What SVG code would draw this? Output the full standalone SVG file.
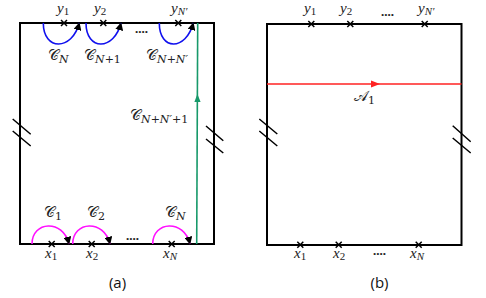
<svg xmlns="http://www.w3.org/2000/svg" width="486" height="298" viewBox="0 0 486 298">
<style>
.box{fill:none;stroke:#000;stroke-width:2}
.hash{stroke:#000;stroke-width:1.5}
.cross{stroke:#000;stroke-width:1.5}
.blue{fill:none;stroke:#1010ee;stroke-width:1.6}
.mag{fill:none;stroke:#ff10ff;stroke-width:1.6}
.m{font-family:"Liberation Serif","DejaVu Serif",serif;font-style:italic;font-size:15px;fill:#222}
.c{font-family:"DejaVu Serif","Liberation Serif",serif;font-size:15px;fill:#222}
.s{font-family:"Liberation Serif",serif;font-size:11px;font-style:italic}
.n{font-family:"Liberation Serif",serif;font-size:11px;font-style:normal}
.cs{font-family:"DejaVu Serif",serif;font-size:11px;font-style:italic}
.cn{font-family:"DejaVu Serif",serif;font-size:11px;font-style:normal}
.dots{font-family:"Liberation Serif",serif;font-size:13px;font-weight:bold;fill:#222}
.cap{font-family:"Open Sans","Liberation Sans",sans-serif;font-size:15px;fill:#111}
</style>
<defs>
<marker id="ah" viewBox="0 0 10 10" refX="9" refY="5" markerWidth="8" markerHeight="8" markerUnits="userSpaceOnUse" orient="auto"><path d="M0,0L10,5L0,10z" fill="#000"/></marker>
<g id="x"><path class="cross" d="M-3,-3L3,3M-3,3L3,-3"/></g>
</defs>

<g id="panel-a">
<rect class="box" x="20" y="23" width="194" height="221"/>
<path class="hash" d="M12.7,119L30.7,134.3M12.7,131L30.7,146M206,126L223.3,140.7M206,139L223.3,153"/>
</g>
<g id="panel-b">
<rect class="box" x="267" y="24" width="194.5" height="221"/>
<path class="hash" d="M259.3,119L277.3,134M259.3,131L277.3,146M452.7,125.7L470.7,141.7M452.7,138L470.7,153"/>
</g>

<g id="points">
<use href="#x" x="64" y="23"/>
<use href="#x" x="103.3" y="23"/>
<use href="#x" x="178.3" y="23"/>
<use href="#x" x="51.7" y="244"/>
<use href="#x" x="91.7" y="244"/>
<use href="#x" x="171.7" y="244"/>
<use href="#x" x="311.3" y="24"/>
<use href="#x" x="350.3" y="24"/>
<use href="#x" x="424.7" y="24"/>
<use href="#x" x="300.3" y="244.7"/>
<use href="#x" x="338.7" y="244.7"/>
<use href="#x" x="418.7" y="244.7"/>
</g>

<g id="connectors">
<path class="blue" d="M43.3,23C43.3,51 72,51 79.3,23" marker-end="url(#ah)"/>
<path class="blue" d="M86,23C86,51 114,51 121,23" marker-end="url(#ah)"/>
<path class="blue" d="M159.3,23C159.3,51 186,51 193.3,23" marker-end="url(#ah)"/>
<path class="mag" d="M32,244C32,221 63,219 69,244" marker-end="url(#ah)"/>
<path class="mag" d="M72.7,244C72.7,221 104,219 110,244" marker-end="url(#ah)"/>
<path class="mag" d="M152.7,244C152.7,221 184,219 190,244" marker-end="url(#ah)"/>
<path d="M196.7,244L197.7,23" stroke="#17996a" stroke-width="1.6" fill="none"/>
<path d="M197.4,94L200.6,102L194.4,102z" fill="#17996a"/>
<path d="M267,84L461.5,84" stroke="#ff2222" stroke-width="1.6"/>
<path d="M380,84L371,80.5L371,87.5z" fill="#ff2222"/>
</g>

<g id="labels">
<text class="m" x="57" y="13">y<tspan class="n" dy="2">1</tspan></text>
<text class="m" x="94" y="13">y<tspan class="n" dy="2">2</tspan></text>
<text class="m" x="171" y="13">y<tspan class="s" dy="2">N′</tspan></text>
<text class="c" x="48" y="60">𝒞<tspan class="cs" dy="2.5">N</tspan></text>
<text class="c" x="84" y="60">𝒞<tspan class="cs" dy="2.5">N</tspan><tspan class="cn">+1</tspan></text>
<text class="c" x="146" y="60">𝒞<tspan class="cs" dy="2.5">N</tspan><tspan class="cn">+</tspan><tspan class="cs">N′</tspan></text>
<text class="c" x="130" y="120">𝒞<tspan class="cs" dy="2.5">N</tspan><tspan class="cn">+</tspan><tspan class="cs">N′</tspan><tspan class="cn">+1</tspan></text>
<text class="dots" x="135" y="33">....</text>
<text class="c" x="44" y="217">𝒞<tspan class="cn" dy="2.5">1</tspan></text>
<text class="c" x="87" y="217">𝒞<tspan class="cn" dy="2.5">2</tspan></text>
<text class="c" x="165" y="217">𝒞<tspan class="cs" dy="2.5">N</tspan></text>
<text class="m" x="45" y="258">x<tspan class="n" dy="2">1</tspan></text>
<text class="m" x="86" y="258">x<tspan class="n" dy="2">2</tspan></text>
<text class="m" x="163" y="258">x<tspan class="s" dy="2">N</tspan></text>
<text class="dots" x="126" y="240">....</text>
<text class="cap" x="117.5" y="288" text-anchor="middle">(a)</text>

<text class="m" x="304" y="13">y<tspan class="n" dy="2">1</tspan></text>
<text class="m" x="340" y="13">y<tspan class="n" dy="2">2</tspan></text>
<text class="m" x="418" y="13">y<tspan class="s" dy="2">N′</tspan></text>
<text class="dots" x="381" y="16">....</text>
<text class="c" x="354" y="101">𝒜<tspan class="cn" dy="2.5">1</tspan></text>
<text class="m" x="294" y="258">x<tspan class="n" dy="2">1</tspan></text>
<text class="m" x="333" y="258">x<tspan class="n" dy="2">2</tspan></text>
<text class="m" x="410" y="258">x<tspan class="s" dy="2">N</tspan></text>
<text class="dots" x="373" y="255">....</text>
<text class="cap" x="379.5" y="288" text-anchor="middle">(b)</text>
</g>
</svg>
